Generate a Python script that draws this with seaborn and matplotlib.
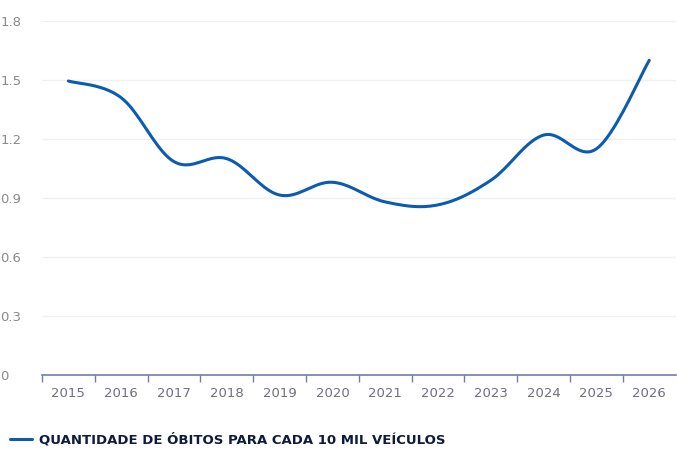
import numpy as np
import pandas as pd
import matplotlib
matplotlib.use("Agg")
import matplotlib.pyplot as plt
import seaborn as sns

# data
anos = ["2015", "2016", "2017", "2018", "2019", "2020",
        "2021", "2022", "2023", "2024", "2025", "2026"]
obitos = [1.495, 1.41, 1.085, 1.10, 0.915, 0.98,
          0.88, 0.865, 0.99, 1.22, 1.15, 1.60]
y_ticks = [0, 0.3, 0.6, 0.9, 1.2, 1.5, 1.8]
y_labels = ["0", "0.3", "0.6", "0.9", "1.2", "1.5", "1.8"]
serie = "QUANTIDADE DE ÓBITOS PARA CADA 10 MIL VEÍCULOS"

LINE = "#0b5cb0"
AXIS = "#6f7ea6"


def smooth_curve(x, y, n=20, t=0.35):
    # bezier-style smoothing between data points (like a "smooth" line option)
    x = np.asarray(x, float)
    y = np.asarray(y, float)
    xs, ys = [], []
    for i in range(len(x) - 1):
        p0 = np.array([x[i], y[i]])
        p3 = np.array([x[i + 1], y[i + 1]])
        prev = np.array([x[i - 1], y[i - 1]]) if i > 0 else p0
        nxt = np.array([x[i + 2], y[i + 2]]) if i + 2 < len(x) else p3
        p1 = p0 + (p3 - prev) * t / 2
        p2 = p3 - (nxt - p0) * t / 2
        s = np.linspace(0, 1, n, endpoint=False)[:, None]
        pts = ((1 - s) ** 3) * p0 + 3 * ((1 - s) ** 2) * s * p1 + 3 * (1 - s) * s ** 2 * p2 + s ** 3 * p3
        xs.extend(pts[:, 0])
        ys.extend(pts[:, 1])
    xs.append(x[-1])
    ys.append(y[-1])
    return np.array(xs), np.array(ys)


sns.set_theme(style="white")
plt.rcParams["font.family"] = ["DejaVu Sans"]

fig = plt.figure(figsize=(6.77, 4.5), dpi=100)
ax = fig.add_axes([0.062, 0.1667, 0.936, 0.7866])

pos = np.arange(len(anos))
sx, sy = smooth_curve(pos, obitos)
df = pd.DataFrame({"x": sx, "y": sy})
sns.lineplot(data=df, x="x", y="y", ax=ax, color=LINE, linewidth=2.2,
             label=serie, legend=False, sort=False)

ax.set_xlim(-0.5, len(anos) - 0.5)
ax.set_ylim(0, 1.8)
ax.set_yticks(y_ticks)
ax.set_yticklabels(y_labels)
ax.set_xticks(pos)
ax.set_xticklabels(anos)
ax.set_xticks(np.arange(len(anos)) - 0.5, minor=True)
ax.tick_params(axis="x", which="major", bottom=False, length=0, pad=9, labelsize=9.5, colors="#6e6e80")
ax.tick_params(axis="x", which="minor", bottom=True, length=5, width=1, color=AXIS, direction="out")
ax.tick_params(axis="y", length=0, pad=30, labelsize=9.5, colors="#8a8a8a")
for lab in ax.get_yticklabels():
    lab.set_horizontalalignment("left")
ax.set_xlabel("")
ax.set_ylabel("")

ax.yaxis.grid(True, color="#f0f0f0", linewidth=1)
ax.xaxis.grid(False)
for s in ["top", "right", "left"]:
    ax.spines[s].set_visible(False)
ax.spines["bottom"].set_color(AXIS)
ax.spines["bottom"].set_linewidth(1.2)

handles, labels = ax.get_legend_handles_labels()
leg = fig.legend(handles, labels, loc="center left", bbox_to_anchor=(0.007, 0.022),
                 frameon=False, handlelength=1.7, handletextpad=0.5, borderaxespad=0,
                 prop={"weight": "bold", "size": 9.5, "family": "DejaVu Sans Condensed"})
for t in leg.get_texts():
    t.set_color("#0d1b3e")

fig.savefig("out.png", dpi=100)
